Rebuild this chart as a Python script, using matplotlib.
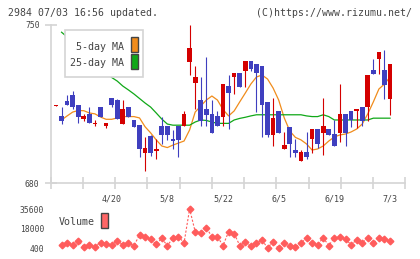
import numpy as np
import matplotlib
matplotlib.use('Agg')
import matplotlib.pyplot as plt
from matplotlib.patches import Rectangle

# daily candles (index 0..60)
opens = [714.2, 709.8, 716.3, 718.9, 714.5, 708.3, 710.7, 706.3, 713.6, 705.3,
         717.7, 716.8, 706.2, 713.6, 708.0, 705.7, 693.5, 700.9, 694.4, 705.2,
         705.2, 699.7, 705.2, 705.3, 733.6, 724.5, 716.8, 713.0, 710.7, 709.8,
         709.5, 723.0, 726.9, 728.6, 729.8, 734.0, 732.8, 731.9, 716.0, 701.5,
         712.1, 695.3, 704.8, 694.7, 689.7, 693.9, 699.5, 704.2, 702.4, 704.2,
         701.8, 702.4, 710.7, 712.1, 712.1, 713.6, 713.6, 730.1, 734.8, 730.1,
         717.4]
highs = [714.8, 713.6, 719.0, 721.0, 714.5, 710.7, 713.6, 708.0, 713.6, 706.5,
         717.7, 717.4, 716.8, 713.6, 708.0, 705.7, 700.6, 701.5, 699.5, 709.5,
         705.2, 703.6, 705.2, 712.0, 750.0, 731.9, 727.1, 736.0, 716.8, 712.0,
         723.9, 728.0, 728.6, 728.6, 734.0, 734.0, 732.8, 731.9, 716.0, 717.7,
         712.1, 702.7, 704.8, 699.7, 694.7, 702.7, 704.2, 704.2, 717.7, 704.2,
         708.0, 723.9, 710.7, 712.1, 712.7, 713.6, 727.8, 734.8, 738.1, 738.9,
         732.8]
lows = [714.2, 706.2, 714.5, 712.7, 706.5, 707.4, 706.5, 705.4, 709.5, 704.5,
        713.6, 708.6, 706.2, 709.5, 704.8, 691.5, 685.6, 692.0, 690.6, 697.4,
        699.0, 695.3, 691.5, 705.3, 727.8, 712.7, 705.3, 705.3, 702.4, 705.3,
        705.3, 703.9, 719.5, 722.7, 722.7, 729.8, 711.5, 700.6, 700.6, 696.5,
        702.4, 695.3, 691.5, 691.5, 689.7, 690.6, 693.5, 695.6, 692.6, 701.5,
        696.5, 698.3, 696.5, 705.0, 704.5, 705.3, 707.7, 728.3, 728.3, 717.2,
        710.4]
closes = [714.8, 707.7, 714.5, 713.6, 709.5, 709.8, 706.5, 706.7, 709.5, 706.5,
          714.5, 708.6, 712.7, 709.5, 704.8, 695.3, 695.6, 693.5, 694.9, 701.5,
          701.5, 698.6, 699.2, 710.7, 739.8, 727.1, 707.7, 710.3, 702.4, 705.3,
          723.9, 719.8, 728.6, 722.7, 734.0, 730.7, 728.6, 714.5, 701.5, 708.9,
          702.4, 696.8, 697.4, 693.5, 693.9, 691.5, 704.2, 697.4, 705.2, 701.5,
          696.5, 710.7, 702.4, 708.0, 712.7, 707.7, 727.8, 728.3, 738.1, 723.6,
          732.8]

# moving averages and volume (index 1..60)
ma5 = [708.0, 709.8, 711.5, 712.2, 712.1, 711.1, 710.7, 709.3, 708.3, 708.3,
       708.9, 709.5, 709.5, 709.5, 708.9, 705.0, 702.3, 699.2, 696.5, 695.8,
       696.9, 697.8, 698.7, 703.6, 711.5, 714.2, 716.8, 718.6, 716.8, 712.6,
       709.8, 712.0, 716.0, 719.9, 723.9, 727.0, 727.9, 726.1, 722.1, 716.8,
       708.9, 703.1, 700.3, 699.2, 697.4, 694.7, 695.2, 696.5, 698.7, 700.5,
       701.4, 701.8, 702.7, 704.0, 706.2, 710.7, 716.0, 721.7, 723.9, 727.0]
ma25 = [746.8, 744.7, 742.5, 740.3, 738.1, 735.9, 733.6, 731.4, 729.0, 726.8,
        725.2, 723.0, 721.3, 719.5, 717.5, 715.5, 713.7, 711.1, 708.4, 706.2,
        705.7, 705.7, 705.7, 705.7, 707.1, 708.0, 707.8, 707.1, 706.5, 706.5,
        706.5, 708.0, 708.7, 709.2, 709.8, 710.3, 710.3, 710.3, 710.3, 710.3,
        710.3, 710.3, 710.3, 710.3, 709.8, 709.5, 709.5, 710.3, 709.5, 708.0,
        708.0, 708.0, 708.0, 708.0, 708.0, 708.0, 708.8, 708.8, 708.8, 708.8]
volume = [3800, 5150, 3800, 6500, 2000, 3500, 1750, 5400, 4250, 3250,
          7200, 3600, 4700, 2900, 12200, 10250, 8650, 4000, 9350, 2730,
          9600, 10800, 5300, 35600, 15300, 13800, 19000, 10700, 10700, 2900,
          15200, 13650, 2900, 5850, 2300, 5300, 7650, 850, 6200, 400,
          5300, 2900, 1750, 4700, 9800, 5300, 3800, 9800, 2900, 9800,
          10700, 8900, 3500, 8000, 5300, 9800, 4700, 9800, 8300, 7100]

date_pos = [10, 20, 30, 40, 50, 60]
date_labels = ['4/20', '5/8', '5/22', '6/5', '6/19', '7/3']

W, H = 420, 259
red = '#d40000'
blue = '#3f3fbf'
orange = '#f08c1c'
green = '#10a818'
vol_col = '#ff5c5c'
grey = '#d4d4d4'
txt = '#444444'
mono = 'DejaVu Sans Mono'

fig = plt.figure(figsize=(4.2, 2.59), dpi=100)
fig.patch.set_facecolor('white')

def box(x0, y0, x1, y1):
    return [x0 / W, 1 - y1 / H, (x1 - x0) / W, (y1 - y0) / H]

x_lim = (-0.952, 62.74)

ax = fig.add_axes(box(50.7, 25, 405.3, 183.3))
ax.set_xlim(*x_lim)
ax.set_ylim(680, 750)

n = len(opens)
for i in range(n):
    o, h, l, c = opens[i], highs[i], lows[i], closes[i]
    col = red if c >= o else blue
    ax.vlines(i, l, h, color=col, lw=0.8, zorder=3)
    ax.add_patch(Rectangle((i - 0.42, min(o, c)), 0.84, max(abs(c - o), 0.55),
                           fc=col, ec='none', zorder=4))

idx = np.arange(1, n)
ax.plot(idx, ma5, color=orange, lw=0.9, zorder=2)
ax.plot(idx, ma25, color=green, lw=0.9, zorder=2)

for s in ['top', 'right']:
    ax.spines[s].set_visible(False)
for s in ['left', 'bottom']:
    ax.spines[s].set_color(grey)
    ax.spines[s].set_linewidth(1.2)
ax.set_yticks([680, 750])
ax.set_yticklabels(['680', '750'], fontsize=5.8, family=mono, color=txt)
ax.tick_params(axis='y', direction='inout', length=8, width=1.2, color=grey, pad=4)
ax.set_xticks(date_pos)
ax.set_xticklabels(date_labels, fontsize=6, family=mono, color=txt)
ax.set_xticks(np.linspace(x_lim[0], x_lim[1], 12), minor=True)
ax.tick_params(axis='x', which='major', length=0, pad=8)
ax.tick_params(axis='x', which='minor', direction='inout', length=8, width=1.2, color=grey)

# legend of the price panel
lg = box(65, 30, 143.3, 76.7)
fig.patches.append(Rectangle((lg[0], lg[1]), lg[2], lg[3], transform=fig.transFigure,
                             fc='white', ec=grey, lw=1.2, zorder=5))
fig.text(124 / W, 1 - 46.7 / H, '5-day MA', ha='right', va='center',
         fontsize=7.2, family=mono, color=txt, zorder=6)
fig.text(124 / W, 1 - 62.7 / H, '25-day MA', ha='right', va='center',
         fontsize=7.2, family=mono, color=txt, zorder=6)
for (y0, y1), col in [((36.7, 52.3), orange), ((54, 69.3), green)]:
    b = box(131, y0, 137.7, y1)
    fig.patches.append(Rectangle((b[0], b[1]), b[2], b[3], transform=fig.transFigure,
                                 fc=col, ec='#444444', lw=1.0, zorder=6))

# volume panel
vax = fig.add_axes(box(50.7, 205, 405.3, 252))
vax.set_xlim(*x_lim)
vax.set_ylim(-2914, 39183)
vax.plot(idx, volume, color=vol_col, lw=0.8, ls=(0, (2, 1.5)), marker='D',
         ms=3.4, mec=vol_col, mfc=vol_col)
for s in vax.spines.values():
    s.set_visible(False)
vax.set_xticks([])
vax.set_yticks([400, 18000, 35600])
vax.set_yticklabels(['400', '18000', '35600'], fontsize=5.8, family=mono, color=txt)
vax.tick_params(axis='y', length=0, pad=4.6)

fig.text(58.3 / W, 1 - 222.3 / H, 'Volume', ha='left', va='center',
         fontsize=7.2, family=mono, color=txt)
b = box(101, 213.3, 108.3, 228.3)
fig.patches.append(Rectangle((b[0], b[1]), b[2], b[3], transform=fig.transFigure,
                             fc='#ff6666', ec='#444444', lw=1.0))

fig.text(8 / W, 1 - 12.7 / H, '2984 07/03 16:56 updated.', ha='left', va='center',
         fontsize=7.1, family=mono, color=txt)
fig.text(411.5 / W, 1 - 12.7 / H, '(C)https://www.rizumu.net/', ha='right', va='center',
         fontsize=7.1, family=mono, color=txt)

fig.savefig('out.png', dpi=100)
